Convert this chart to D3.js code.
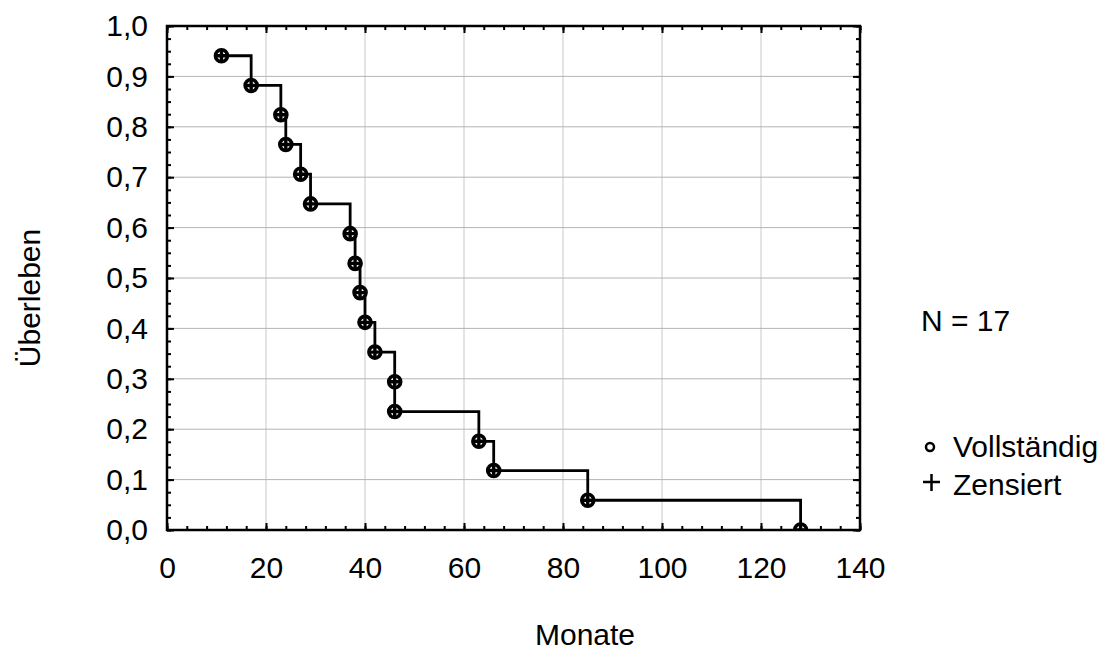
<!DOCTYPE html>
<html>
<head>
<meta charset="utf-8">
<script src="https://cdn.jsdelivr.net/npm/d3@7"></script>
<style>
  body { margin: 0; background: #fff; }
  text { font-family: "Liberation Sans", Arial, sans-serif; fill: #000; }
</style>
</head>
<body>
<div class="canvas"></div>
<script>
// Kaplan-Meier data
const months = [11, 17, 23, 24, 27, 29, 37, 38, 39, 40, 42, 46, 46, 63, 66, 85, 128]
const survival = [0.941, 0.882, 0.824, 0.765, 0.706, 0.647, 0.588, 0.529, 0.471, 0.412, 0.353, 0.294, 0.235, 0.176, 0.118, 0.059, 0.0]

const xTicks = [0, 20, 40, 60, 80, 100, 120, 140]
const yTicks = [0, 0.1, 0.2, 0.3, 0.4, 0.5, 0.6, 0.7, 0.8, 0.9, 1.0]
const xMinorStep = 4
const yMinorStep = 0.025

const legendLabels = ["Vollständig", "Zensiert"]
const nLabel = "N = 17"
const xTitle = "Monate"
const yTitle = "Überleben"

/**
 * Dimensions
 */
const width = 1109
const height = 653
const plot = {left: 167, right: 860, top: 26, bottom: 530}

const svg = d3.select(".canvas")
    .append("svg")
    .attr("width", width)
    .attr("height", height)

svg.append("rect")
    .attr("width", width)
    .attr("height", height)
    .attr("fill", "#fff")

const x = d3.scaleLinear().domain([0, 140]).range([plot.left, plot.right])
const y = d3.scaleLinear().domain([0, 1]).range([plot.bottom, plot.top])

const comma = d => d3.format(".1f")(d).replace(".", ",")

svg.append("clipPath")
    .attr("id", "clip")
  .append("rect")
    .attr("x", plot.left)
    .attr("y", plot.top)
    .attr("width", plot.right - plot.left)
    .attr("height", plot.bottom - plot.top)

/**
 * Grid
 */
const grid = svg.append("g")
grid.selectAll(".vgrid")
    .data(xTicks)
    .enter().append("line")
    .attr("x1", d => x(d)).attr("x2", d => x(d))
    .attr("y1", plot.top).attr("y2", plot.bottom)
    .attr("stroke", "#c8c8c8")
    .attr("stroke-width", 1)
grid.selectAll(".hgrid")
    .data(yTicks)
    .enter().append("line")
    .attr("y1", d => y(d)).attr("y2", d => y(d))
    .attr("x1", plot.left).attr("x2", plot.right)
    .attr("stroke", "#b4b4b4")
    .attr("stroke-width", 1)

/**
 * Axes (inward ticks on all four sides)
 */
const xMinor = d3.range(0, 140 + 0.001, xMinorStep)
const yMinor = d3.range(0, 40 + 1).map(i => i * yMinorStep)

const styleAxis = g => {
    g.select(".domain").remove()
    g.selectAll("line").attr("stroke", "#000").attr("stroke-width", 2)
    g.selectAll("text").style("font-size", "30px").attr("fill", "#1a1a1a")
}

svg.append("g")
    .attr("transform", `translate(0,${plot.bottom})`)
    .call(d3.axisBottom(x).tickValues(xMinor).tickSize(-4).tickFormat(""))
    .call(styleAxis)
svg.append("g")
    .attr("transform", `translate(0,${plot.bottom})`)
    .call(d3.axisBottom(x).tickValues(xTicks).tickSize(-7).tickPadding(27).tickFormat(d3.format("d")))
    .call(styleAxis)
svg.append("g")
    .attr("transform", `translate(0,${plot.top})`)
    .call(d3.axisTop(x).tickValues(xMinor).tickSize(-4).tickFormat(""))
    .call(styleAxis)
svg.append("g")
    .attr("transform", `translate(0,${plot.top})`)
    .call(d3.axisTop(x).tickValues(xTicks).tickSize(-7).tickFormat(""))
    .call(styleAxis)

svg.append("g")
    .attr("transform", `translate(${plot.left},0)`)
    .call(d3.axisLeft(y).tickValues(yMinor).tickSize(-4).tickFormat(""))
    .call(styleAxis)
svg.append("g")
    .attr("transform", `translate(${plot.left},0)`)
    .call(d3.axisLeft(y).tickValues(yTicks).tickSize(-7).tickPadding(19).tickFormat(comma))
    .call(styleAxis)
svg.append("g")
    .attr("transform", `translate(${plot.right},0)`)
    .call(d3.axisRight(y).tickValues(yMinor).tickSize(-4).tickFormat(""))
    .call(styleAxis)
svg.append("g")
    .attr("transform", `translate(${plot.right},0)`)
    .call(d3.axisRight(y).tickValues(yTicks).tickSize(-7).tickFormat(""))
    .call(styleAxis)

/**
 * Survival step line
 */
const data = months.map((m, i) => ({month: m, surv: survival[i]}))

const line = d3.line()
    .curve(d3.curveStepAfter)
    .x(d => x(d.month))
    .y(d => y(d.surv))

const graph = svg.append("g").attr("clip-path", "url(#clip)")

graph.append("path")
    .datum(data)
    .attr("fill", "none")
    .attr("stroke", "#000")
    .attr("stroke-width", 2.8)
    .attr("d", line)

// markers: complete (circle) + censored (cross) drawn on top of each other
const marks = graph.selectAll(".mark")
    .data(data)
    .enter().append("g")
    .attr("transform", d => `translate(${x(d.month)},${y(d.surv)})`)

marks.append("circle")
    .attr("r", 6)
    .attr("fill", "#fff")
    .attr("stroke", "#000")
    .attr("stroke-width", 3.6)
marks.append("path")
    .attr("d", "M-6,0H6M0,-6V6")
    .attr("stroke", "#000")
    .attr("stroke-width", 3.4)

// frame
svg.append("rect")
    .attr("x", plot.left)
    .attr("y", plot.top)
    .attr("width", plot.right - plot.left)
    .attr("height", plot.bottom - plot.top)
    .attr("fill", "none")
    .attr("stroke", "#000")
    .attr("stroke-width", 2.5)

/**
 * Titles and legend
 */
svg.append("text")
    .attr("x", 585)
    .attr("y", 645)
    .attr("text-anchor", "middle")
    .style("font-size", "30px")
    .text(xTitle)

svg.append("text")
    .attr("transform", "translate(40,298) rotate(-90)")
    .attr("text-anchor", "middle")
    .style("font-size", "30px")
    .text(yTitle)

svg.append("text")
    .attr("x", 921)
    .attr("y", 331)
    .style("font-size", "30px")
    .text(nLabel)

const legend = svg.append("g")
legend.append("circle")
    .attr("cx", 930).attr("cy", 447)
    .attr("r", 4)
    .attr("fill", "none")
    .attr("stroke", "#000")
    .attr("stroke-width", 2.5)
legend.append("path")
    .attr("d", "M923,482H940M931.5,474V491")
    .attr("stroke", "#000")
    .attr("stroke-width", 2.5)
legend.selectAll(".lbl")
    .data(legendLabels)
    .enter().append("text")
    .attr("x", 953)
    .attr("y", (d, i) => 457 + i * 38)
    .style("font-size", "30px")
    .text(d => d)
</script>
</body>
</html>
